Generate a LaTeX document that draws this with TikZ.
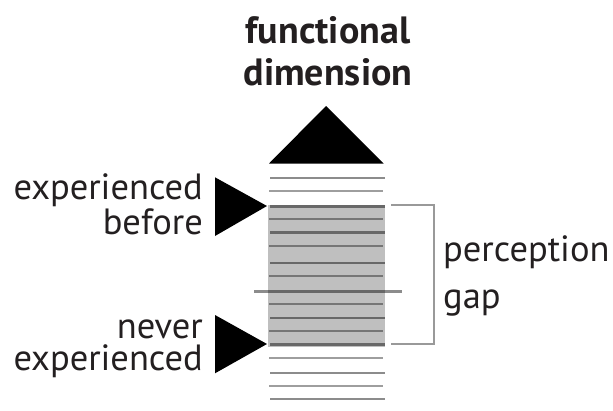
\documentclass[tikz,border=0pt]{standalone}
\usepackage{fontspec}
\setmainfont{PT Sans}
\definecolor{ink}{HTML}{231F20}
\begin{document}
\begin{tikzpicture}[x=1pt,y=-1pt,
  rung/.style={line width=2.4pt,black,opacity=0.45},
  halfrung/.style={line width=1.7pt,black,opacity=0.38},
  pointer/.style={fill=black,draw=none},
  label/.style={inner sep=0pt,text=ink,font=\fontsize{36.5}{31.5}\selectfont},
  bigtext/.style={inner sep=0pt,text=ink,font=\fontsize{36.5}{46.7}\selectfont},
  titletext/.style={inner sep=0pt,text=ink,font=\bfseries\fontsize{38}{41.7}\selectfont}]
\useasboundingbox (0,0) rectangle (613,410);

% shaded band of already-perceived functions
\fill[fill=black!25] (267.5,204.5) rectangle (385,346.5);

% scale rungs
\foreach \y in {177.7,206.3,232.3,263,318,344.3,372.7,398.7}
  \draw[rung] (270,\y) -- (385,\y);
\foreach \y in {190.7,219,245.7,276,303.7,331.3,357.7,386}
  \draw[halfrung] (269,\y) -- (383,\y);
\draw[line width=3pt,black,opacity=0.45] (254,291.7) -- (402,291.7);

% upward arrow head
\coordinate (apex) at (326,106);
\fill[pointer] (apex) -- (383.5,163.5) -- (269,163.5) -- cycle;

% side pointers
\coordinate (tipA) at (267,206);
\coordinate (tipB) at (267,344);
\fill[pointer] (tipA) -- (215,177.3) -- (215,236) -- cycle;
\fill[pointer] (tipB) -- (215,315) -- (215,373.3) -- cycle;

% bracket for the gap
\coordinate (brTop) at (391,205);
\coordinate (brBot) at (391,344);
\draw[line width=2pt,black!40] (brTop) -- (434,205) -- (434,344) -- (brBot);

% labels (base anchor sits on the last line)
\node[titletext,align=center,anchor=base] (title) at (328,85) {functional\\dimension};
\node[label,align=right,anchor=base east] (before) at (203,234) {experienced\\before};
\node[label,align=right,anchor=base east] (never) at (203,370) {never\\experienced};
\node[bigtext,align=left,anchor=base west] (gap) at (443,308.4) {perception\\gap};
\end{tikzpicture}
\end{document}
